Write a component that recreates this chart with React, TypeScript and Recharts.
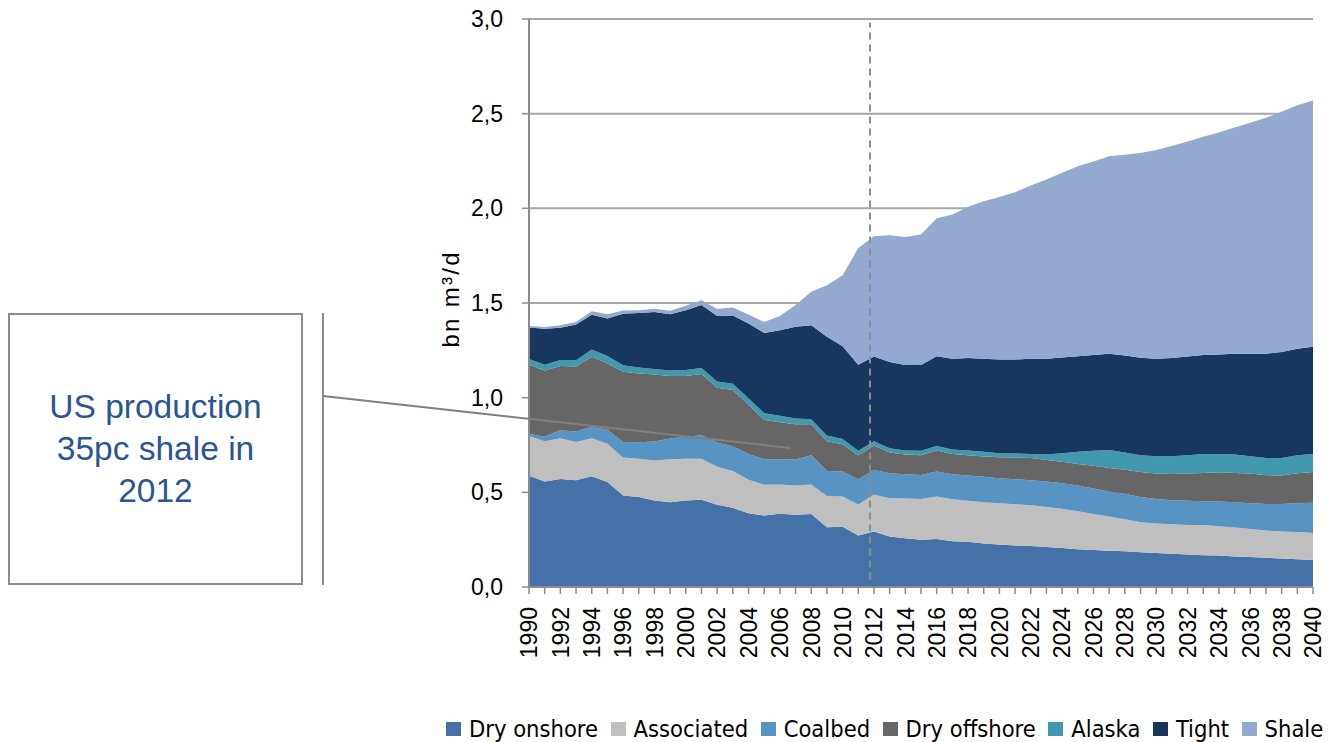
import React from "react"
import { AreaChart, Area, XAxis, YAxis, CartesianGrid, Legend, ReferenceLine } from "recharts"

const years = [
  1990, 1991, 1992, 1993, 1994, 1995, 1996, 1997, 1998, 1999,
  2000, 2001, 2002, 2003, 2004, 2005, 2006, 2007, 2008, 2009,
  2010, 2011, 2012, 2013, 2014, 2015, 2016, 2017, 2018, 2019,
  2020, 2021, 2022, 2023, 2024, 2025, 2026, 2027, 2028, 2029,
  2030, 2031, 2032, 2033, 2034, 2035, 2036, 2037, 2038, 2039, 2040,
]

// bn m3/d, one value per year
const dryOnshore = [
  0.587, 0.557, 0.571, 0.564, 0.585, 0.555, 0.483, 0.475, 0.457, 0.448,
  0.457, 0.461, 0.434, 0.418, 0.39, 0.378, 0.387, 0.381, 0.385, 0.316,
  0.318, 0.272, 0.293, 0.267, 0.258, 0.25, 0.253, 0.242, 0.239, 0.23,
  0.225, 0.219, 0.216, 0.211, 0.206, 0.2, 0.195, 0.191, 0.189, 0.184,
  0.179, 0.175, 0.172, 0.168, 0.166, 0.161, 0.158, 0.154, 0.151, 0.146, 0.142,
]
const associated = [
  0.211, 0.213, 0.215, 0.202, 0.201, 0.201, 0.201, 0.202, 0.211, 0.227,
  0.22, 0.216, 0.201, 0.195, 0.176, 0.162, 0.154, 0.155, 0.156, 0.165,
  0.16, 0.164, 0.194, 0.202, 0.209, 0.215, 0.225, 0.222, 0.216, 0.218,
  0.218, 0.218, 0.216, 0.212, 0.207, 0.2, 0.191, 0.181, 0.169, 0.158,
  0.156, 0.157, 0.156, 0.159, 0.155, 0.153, 0.149, 0.144, 0.142, 0.144, 0.143,
]
const coalbed = [
  0.012, 0.024, 0.042, 0.055, 0.061, 0.074, 0.082, 0.088, 0.1, 0.109,
  0.117, 0.124, 0.128, 0.129, 0.137, 0.135, 0.134, 0.137, 0.155, 0.132,
  0.132, 0.133, 0.131, 0.132, 0.129, 0.127, 0.132, 0.132, 0.134, 0.134,
  0.132, 0.132, 0.132, 0.134, 0.135, 0.136, 0.134, 0.132, 0.134, 0.134,
  0.13, 0.126, 0.127, 0.126, 0.13, 0.134, 0.136, 0.141, 0.146, 0.153, 0.16,
]
const dryOffshore = [
  0.364, 0.35, 0.339, 0.343, 0.369, 0.351, 0.371, 0.363, 0.355, 0.33,
  0.32, 0.324, 0.29, 0.299, 0.259, 0.207, 0.195, 0.186, 0.163, 0.157,
  0.144, 0.125, 0.13, 0.109, 0.104, 0.104, 0.111, 0.107, 0.107, 0.107,
  0.11, 0.115, 0.118, 0.114, 0.113, 0.114, 0.12, 0.125, 0.127, 0.132,
  0.134, 0.139, 0.144, 0.149, 0.155, 0.154, 0.156, 0.151, 0.15, 0.158, 0.163,
]
const alaska = [
  0.03, 0.03, 0.032, 0.033, 0.039, 0.039, 0.034, 0.031, 0.029, 0.029,
  0.032, 0.032, 0.033, 0.033, 0.035, 0.036, 0.034, 0.031, 0.027, 0.03,
  0.028, 0.025, 0.022, 0.023, 0.021, 0.023, 0.024, 0.023, 0.025, 0.025,
  0.022, 0.021, 0.021, 0.029, 0.046, 0.064, 0.079, 0.095, 0.091, 0.088,
  0.092, 0.094, 0.097, 0.101, 0.097, 0.098, 0.092, 0.092, 0.093, 0.095, 0.095,
]
const tight = [
  0.167, 0.19, 0.17, 0.19, 0.183, 0.198, 0.272, 0.288, 0.3, 0.297,
  0.316, 0.332, 0.346, 0.36, 0.395, 0.424, 0.452, 0.484, 0.497, 0.522,
  0.49, 0.455, 0.448, 0.455, 0.451, 0.453, 0.474, 0.479, 0.488, 0.491,
  0.495, 0.497, 0.502, 0.505, 0.505, 0.505, 0.506, 0.508, 0.513, 0.515,
  0.514, 0.518, 0.521, 0.522, 0.525, 0.532, 0.541, 0.55, 0.559, 0.562, 0.566,
]
const shale = [
  0.007, 0.009, 0.013, 0.012, 0.018, 0.023, 0.018, 0.015, 0.017, 0.019,
  0.023, 0.026, 0.036, 0.042, 0.047, 0.057, 0.075, 0.115, 0.176, 0.272,
  0.375, 0.616, 0.635, 0.67, 0.677, 0.69, 0.729, 0.762, 0.799, 0.832,
  0.858, 0.883, 0.915, 0.947, 0.976, 1.003, 1.023, 1.043, 1.06, 1.081,
  1.103, 1.12, 1.136, 1.153, 1.173, 1.195, 1.22, 1.246, 1.269, 1.286, 1.301,
]

const yTicks = [0, 0.5, 1, 1.5, 2, 2.5, 3]

const series = [
  { key: "dryOnshore", name: "Dry onshore", color: "#4472A8", values: dryOnshore },
  { key: "associated", name: "Associated", color: "#BFBFBF", values: associated },
  { key: "coalbed", name: "Coalbed", color: "#5793C3", values: coalbed },
  { key: "dryOffshore", name: "Dry offshore", color: "#666666", values: dryOffshore },
  { key: "alaska", name: "Alaska", color: "#4299AF", values: alaska },
  { key: "tight", name: "Tight", color: "#17375E", values: tight },
  { key: "shale", name: "Shale", color: "#94A9CF", values: shale },
]

const data = years.map((year, i) => {
  const row: Record<string, number> = { year }
  series.forEach((s) => {
    row[s.key] = s.values[i]
  })
  return row
})

const FONT = "'Liberation Sans', Arial, sans-serif"
const AXIS_GRAY = "#8C8C8C"

function YearTick({ x, y, payload }: any) {
  if (payload.value % 2 !== 0) return null
  return (
    <text
      transform={`translate(${x},${y}) rotate(-90)`}
      textAnchor="end"
      dy="0.36em"
      fontSize={23}
      fontFamily={FONT}
      fill="#000"
    >
      {payload.value}
    </text>
  )
}

// keep the legend in stacking order (recharts sorts it by name otherwise)
function LegendContent({ payload }: any) {
  const order = series.map((s) => s.name)
  const items = [...(payload || [])].sort((a: any, b: any) => order.indexOf(a.value) - order.indexOf(b.value))
  return (
    <div style={{ display: "flex", alignItems: "center", fontFamily: "'DejaVu Sans Condensed', 'DejaVu Sans', sans-serif", fontStretch: "condensed", fontSize: 23.5, color: "#000", whiteSpace: "nowrap" }}>
      {items.map((entry: any) => (
        <div key={entry.value} style={{ display: "flex", alignItems: "center", marginRight: 12.5 }}>
          <span style={{ display: "inline-block", width: 15, height: 14, background: entry.color, marginRight: 8 }} />
          <span>{entry.value}</span>
        </div>
      ))}
    </div>
  )
}

export default function App() {
  return (
    <div style={{ position: "absolute", left: 0, top: 0, width: 1332, height: 742, background: "#fff" }}>
      <AreaChart
        width={1332}
        height={742}
        data={data}
        margin={{ top: 19, right: 19, left: 0, bottom: 55 }}
      >
        <CartesianGrid vertical={false} stroke="#A6A6A6" strokeWidth={2} />
        <XAxis
          dataKey="year"
          type="number"
          domain={[1990, 2040]}
          ticks={years}
          interval={0}
          height={100}
          tickSize={7}
          tickMargin={13}
          tick={<YearTick />}
          axisLine={{ stroke: AXIS_GRAY, strokeWidth: 2 }}
          tickLine={{ stroke: AXIS_GRAY, strokeWidth: 1.5 }}
        />
        <YAxis
          type="number"
          domain={[0, 3]}
          ticks={yTicks}
          interval={0}
          width={529}
          tickSize={7}
          tickMargin={19}
          tickFormatter={(v: number) => v.toFixed(1).replace(".", ",")}
          tick={{ fontSize: 23, fontFamily: FONT, fill: "#000" }}
          axisLine={{ stroke: AXIS_GRAY, strokeWidth: 2 }}
          tickLine={{ stroke: AXIS_GRAY, strokeWidth: 1.5 }}
          label={{
            content: ({ viewBox }: any) => {
              const cx = viewBox.x + viewBox.width - 79
              const cy = viewBox.y + viewBox.height / 2 - 3
              return (
                <text
                  x={cx}
                  y={cy}
                  transform={`rotate(-90 ${cx} ${cy})`}
                  textAnchor="middle"
                  dominantBaseline="central"
                  fontSize={24}
                  fontFamily={FONT}
                  textLength={95}
                  lengthAdjust="spacing"
                  fill="#000"
                >
                  bn m³/d
                </text>
              )
            },
          }}
        />
        {series.map((s) => (
          <Area
            key={s.key}
            type="linear"
            dataKey={s.key}
            name={s.name}
            stackId="gas"
            fill={s.color}
            fillOpacity={1}
            stroke="none"
            isAnimationActive={false}
          />
        ))}
        <ReferenceLine
          segment={[{ x: 2011.75, y: 0.04 }, { x: 2011.75, y: 2.98 }]}
          stroke={AXIS_GRAY}
          strokeWidth={2}
          strokeDasharray="7 5"
        />
        <Legend
          layout="horizontal"
          verticalAlign="middle"
          align="center"
          content={<LegendContent />}
          wrapperStyle={{ left: 446, top: 715, width: 900, height: 30 }}
        />
      </AreaChart>

      <div
        style={{
          position: "absolute",
          left: 8,
          top: 313,
          width: 291,
          height: 268,
          border: "2px solid #8C8C8C",
          display: "flex",
          alignItems: "center",
          justifyContent: "center",
          textAlign: "center",
          color: "#2B5593",
          fontFamily: FONT,
          fontSize: 33.5,
          lineHeight: "42px",
        }}
      >
        <div>
          US production
          <br />
          35pc shale in
          <br />
          2012
        </div>
      </div>
      <svg width={1332} height={742} style={{ position: "absolute", left: 0, top: 0, pointerEvents: "none" }}>
        <line x1={323} y1={313} x2={323} y2={585} stroke="#8C8C8C" strokeWidth={2} />
        <line x1={323} y1={396} x2={790} y2={448} stroke="#808080" strokeWidth={2} />
      </svg>
    </div>
  )
}
